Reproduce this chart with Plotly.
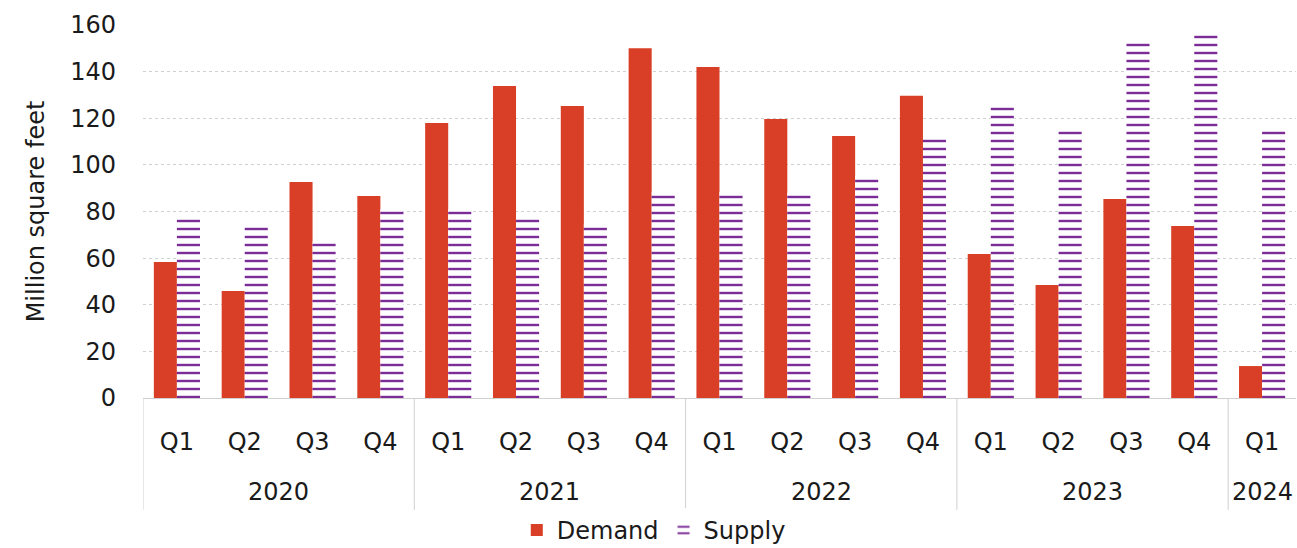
import plotly.graph_objects as go

years = ["2020"] * 4 + ["2021"] * 4 + ["2022"] * 4 + ["2023"] * 4 + ["2024"]
quarters = ["Q1", "Q2", "Q3", "Q4"] * 4 + ["Q1"]
demand = [58.3, 45.9, 92.7, 86.7, 118, 133.8, 125.3, 150, 142, 119.7, 112.4, 129.6, 61.8, 48.5, 85.4, 73.8, 13.7]
supply = [78, 73.8, 67, 81, 81, 78, 74.6, 88.4, 88.4, 88, 95.2, 112, 126, 115.8, 153, 156.6, 115.8]
y_ticks = [0, 20, 40, 60, 80, 100, 120, 140, 160]

FONT = "DejaVu Sans"
FS = 24
GRID = "#d0d0d0"

cats = [f"{y} {q}" for y, q in zip(years, quarters)]

fig = go.Figure()
fig.add_trace(go.Bar(
    x=cats, y=demand, name="Demand",
    marker=dict(color="#d83f26", line=dict(width=0)),
))
fig.add_trace(go.Bar(
    x=cats, y=supply, name="Supply",
    marker=dict(color="white", line=dict(width=0),
                pattern=dict(shape="-", fgcolor="#7b2c96", bgcolor="white",
                             size=8, solidity=0.3, fillmode="replace")),
))

# year group labels and dividers
unique_years = []
for y in years:
    if y not in unique_years:
        unique_years.append(y)
annotations = []
shapes = []
for yr in unique_years:
    idx = [i for i, y in enumerate(years) if y == yr]
    center = (idx[0] + idx[-1]) / 2
    annotations.append(dict(x=center, xref="x", y=-0.252, yref="paper", text=yr,
                            showarrow=False, yanchor="middle", xanchor="center",
                            font=dict(family=FONT, size=FS, color="#1a1a1a")))
    shapes.append(dict(type="line", xref="x", yref="paper", x0=idx[0] - 0.5, x1=idx[0] - 0.5,
                       y0=0, y1=-0.30, line=dict(color=GRID, width=1)))

fig.update_layout(
    width=1297, height=548,
    margin=dict(l=143, r=1, t=25, b=150, autoexpand=False),
    paper_bgcolor="white", plot_bgcolor="white",
    barmode="group", bargap=0.32, bargroupgap=0,
    font=dict(family=FONT, size=FS, color="#1a1a1a"),
    showlegend=True,
    legend=dict(orientation="h", x=0.443, xanchor="center", y=-0.355, yanchor="middle",
                font=dict(family=FONT, size=FS), itemwidth=30, traceorder="normal"),
    xaxis=dict(
        type="category", tickvals=cats, ticktext=quarters, automargin=False,
        tickfont=dict(family=FONT, size=FS), showline=True, linecolor=GRID,
        showgrid=False, ticks="", ticklabelstandoff=22, range=[-0.5, len(cats) - 0.5],
    ),
    yaxis=dict(
        range=[0, 160], tickvals=y_ticks, showgrid=True, gridcolor=GRID, griddash="dot",
        gridwidth=1, zeroline=True, zerolinecolor=GRID, zerolinewidth=1, automargin=False,
        title=dict(text="Million square feet", font=dict(family=FONT, size=FS), standoff=18),
        tickfont=dict(family=FONT, size=FS), ticks="", ticklabelstandoff=26,
    ),
    annotations=annotations,
    shapes=shapes,
)

fig.write_html("out.html")
